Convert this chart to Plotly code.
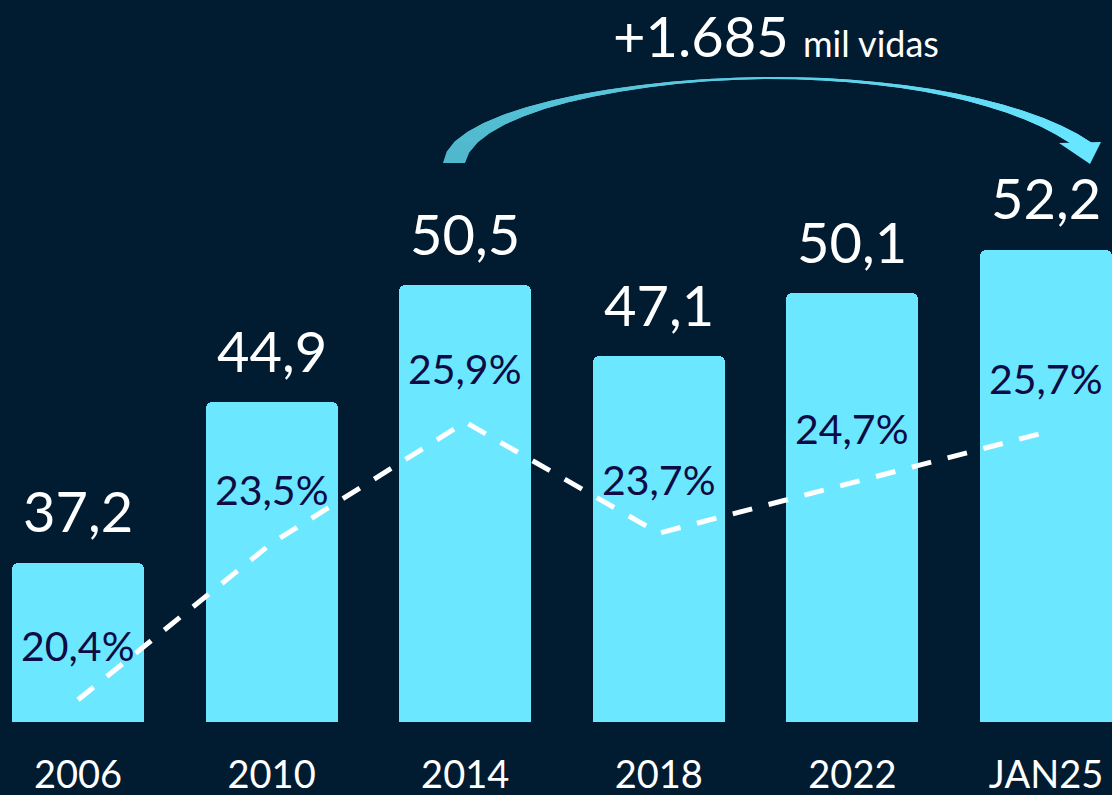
import plotly.graph_objects as go

# ---- data ----
categories = ["2006", "2010", "2014", "2018", "2022", "JAN25"]
beneficiarios = [37.2, 44.9, 50.5, 47.1, 50.1, 52.2]      # milhões de vidas
cobertura = [20.4, 23.5, 25.9, 23.7, 24.7, 25.7]          # % da população
bar_labels = ["37,2", "44,9", "50,5", "47,1", "50,1", "52,2"]
pct_labels = ["20,4%", "23,5%", "25,9%", "23,7%", "24,7%", "25,7%"]
headline = "+1.685"
headline_unit = "mil vidas"

# ---- style ----
BG = "#011b31"
BAR = "#6be8ff"
PCT_TXT = "#0f0b45"
FONT = "Source Sans Pro, Lato, sans-serif"
W, H = 1112, 795
MB = 73
PLOT_H = H - MB

xs = list(range(len(categories)))

fig = go.Figure()
fig.add_trace(go.Bar(
    x=xs, y=beneficiarios, width=0.682,
    marker=dict(color=BAR, line=dict(width=0), cornerradius=6),
    hoverinfo="skip", showlegend=False,
))
fig.add_trace(go.Scatter(
    x=xs, y=cobertura, yaxis="y2", mode="lines",
    line=dict(color="white", width=5, dash="20px,17px"),
    hoverinfo="skip", showlegend=False,
))

ann = []
for i, (v, t) in enumerate(zip(beneficiarios, bar_labels)):
    ann.append(dict(x=i, y=v, xref="x", yref="y", text=t, showarrow=False,
                    yanchor="middle", yshift=52,
                    font=dict(family=FONT, size=56, color="white")))
for i, (v, t) in enumerate(zip(cobertura, pct_labels)):
    ann.append(dict(x=i, y=v, xref="x", yref="y2", text=t, showarrow=False,
                    yanchor="middle", yshift=54,
                    font=dict(family=FONT, size=41, color=PCT_TXT)))
ann.append(dict(x=776 / W, y=(PLOT_H - 36) / PLOT_H, xref="paper", yref="paper",
                text=f"{headline} <span style='font-size:36px'>{headline_unit}</span>",
                showarrow=False, xanchor="center", yanchor="middle",
                font=dict(family=FONT, size=56, color="white")))

# ---- curved arrow (decoration, built in pixel space -> paper coords) ----
def P(px, py):
    return (px / W, (PLOT_H - py) / PLOT_H)

def cubic(p0, p1, p2, p3, n):
    pts = []
    for k in range(n + 1):
        t = k / n
        a = (1 - t) ** 3; b = 3 * (1 - t) ** 2 * t; c = 3 * (1 - t) * t ** 2; d = t ** 3
        pts.append((a * p0[0] + b * p1[0] + c * p2[0] + d * p3[0],
                    a * p0[1] + b * p1[1] + c * p2[1] + d * p3[1]))
    return pts

N = 14
outer = cubic((443, 163), (448, 110), (620, 78), (767, 77), N) + \
        cubic((767, 77), (900, 76), (1030, 100), (1092, 143), N)[1:]
inner = cubic((465, 163), (475, 112), (630, 80), (767, 79), N) + \
        cubic((767, 79), (900, 79), (1010, 103), (1070, 143), N)[1:]

c0 = (80, 184, 204)
c1 = (104, 230, 255)
shapes = []
M = len(outer) - 1
for k in range(M):
    k2 = min(k + 2, M)
    poly = outer[k:k2 + 1] + inner[k:k2 + 1][::-1]
    f = k / (M - 1)
    col = "rgb(%d,%d,%d)" % tuple(int(c0[j] + (c1[j] - c0[j]) * f) for j in range(3))
    path = "M " + " L ".join("%.5f,%.5f" % P(*p) for p in poly) + " Z"
    shapes.append(dict(type="path", xref="paper", yref="paper", path=path,
                       fillcolor=col, line=dict(width=0), layer="above"))
head = [(1059, 143), (1101, 142), (1090, 164)]
shapes.append(dict(type="path", xref="paper", yref="paper",
                   path="M " + " L ".join("%.5f,%.5f" % P(*p) for p in head) + " Z",
                   fillcolor="rgb(104,230,255)", line=dict(width=0), layer="above"))

fig.update_layout(
    width=W, height=H,
    paper_bgcolor=BG, plot_bgcolor=BG,
    margin=dict(l=0, r=0, t=0, b=MB),
    bargap=0,
    xaxis=dict(range=[-0.403, 5.341], tickvals=xs, ticktext=categories,
               showgrid=False, zeroline=False, showline=False, ticks="",
               tickfont=dict(family=FONT, size=38, color="white"),
               ticklabelstandoff=27, automargin=False, fixedrange=True),
    yaxis=dict(range=[29.59, 64.14], visible=False, showgrid=False,
               automargin=False, fixedrange=True),
    yaxis2=dict(range=[19.96, 34.26], overlaying="y", side="right", visible=False,
                showgrid=False, automargin=False, fixedrange=True),
    annotations=ann,
    shapes=shapes,
    showlegend=False,
)

fig.write_html(
    "out.html",
    config={"displayModeBar": False},
    post_script="document.body.style.margin='0';document.body.style.overflow='hidden';"
                "document.body.style.background='" + BG + "';",
)
